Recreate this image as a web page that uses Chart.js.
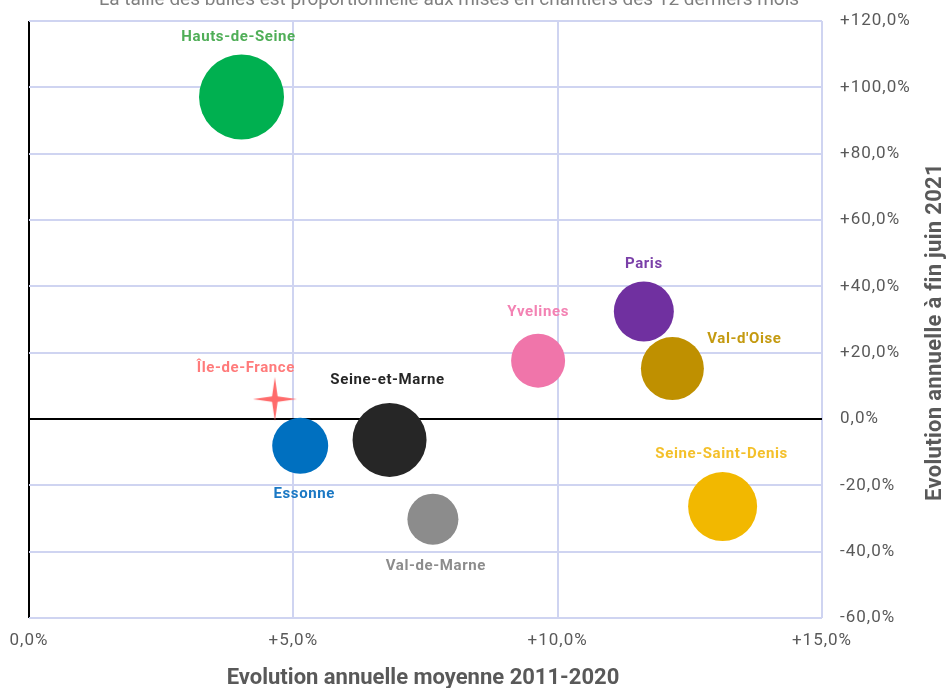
<!DOCTYPE html>
<html>
<head>
<meta charset="utf-8">
<script src="https://cdn.jsdelivr.net/npm/chart.js@4/dist/chart.umd.min.js"></script>
<style>
  html, body { margin: 0; padding: 0; background: #fff; }
  #wrap { width: 948px; height: 688px; position: relative; }
</style>
</head>
<body>
<div id="wrap"><canvas id="chart" width="948" height="688"></canvas></div>
<script>
// départements (+ région)
const names = ['Hauts-de-Seine', 'Paris', "Val-d'Oise", 'Yvelines', 'Seine-Saint-Denis',
               'Seine-et-Marne', 'Essonne', 'Val-de-Marne', 'Île-de-France'];
// évolution annuelle moyenne 2011-2020 (%)
const evol2011_2020 = [4.02, 11.63, 12.17, 9.63, 13.12, 6.82, 5.13, 7.64, 4.65];
// évolution annuelle à fin juin 2021 (%)
const evolJuin2021 = [97.1, 32.4, 15.2, 17.6, -26.4, -6.3, -8.1, -30.2, 6.0];
// taille des bulles (mises en chantier 12 derniers mois)
const bubbleSize = [42.5, 30, 31.5, 27, 34.5, 37, 28, 25.5, 0];
const colors = ['#00b050', '#7030a0', '#bf9000', '#f075aa', '#f2b800',
                '#262626', '#0070c0', '#8c8c8c', '#ff6b6b'];
const labelColors = ['#4fae57', '#7a3fa8', '#c49a10', '#f382b3', '#f4c02a',
                     '#262626', '#1a78c4', '#8c8c8c', '#ff7b7b'];
const xTicks = [0, 5, 10, 15];
const yTicks = [-60, -40, -20, 0, 20, 40, 60, 80, 100, 120];

// position du libellé par rapport au centre de la bulle (px)
const labelOffsets = [[-3, -60], [0, -47], [72, -29], [0, -48], [-1, -52],
                      [-2, -60], [4, 48], [3, 47], [-29, -31]];

const GRID = '#cfd4f1';
const TXT = '#595959';

function fmtPct(v) {
  const s = Math.abs(v).toFixed(1).replace('.', ',') + '%';
  if (v > 0) return '+' + s;
  if (v < 0) return '-' + s;
  return s;
}

// étoile à 4 branches pour Île-de-France
function makeStar(size, color) {
  const c = document.createElement('canvas');
  c.width = size; c.height = size;
  const g = c.getContext('2d');
  const m = size / 2, R = size / 2, r = size * 0.09;
  g.beginPath();
  for (let i = 0; i < 8; i++) {
    const a = -Math.PI / 2 + i * Math.PI / 4;
    const rr = i % 2 === 0 ? R : r;
    const px = m + Math.cos(a) * rr, py = m + Math.sin(a) * rr;
    if (i === 0) g.moveTo(px, py); else g.lineTo(px, py);
  }
  g.closePath();
  g.fillStyle = color;
  g.fill();
  return c;
}

const datasets = names.map(function(n, i) {
  const isStar = i === names.length - 1;
  return {
    label: n,
    data: [{ x: evol2011_2020[i], y: evolJuin2021[i], r: isStar ? 22 : bubbleSize[i] }],
    backgroundColor: colors[i],
    borderWidth: 0,
    hoverBorderWidth: 0,
    pointStyle: isStar ? makeStar(44, colors[i]) : 'circle'
  };
});

const decorPlugin = {
  id: 'decor',
  beforeDraw(chart) {
    // un peu d'espacement pour les graduations
    chart.ctx.letterSpacing = '1px';
  },
  afterDatasetsDraw(chart) {
    const ctx = chart.ctx;
    ctx.save();
    ctx.textAlign = 'center';
    ctx.textBaseline = 'middle';
    ctx.letterSpacing = '0.6px';
    ctx.font = 'bold 15px Roboto, "Noto Sans", sans-serif';
    chart.data.datasets.forEach(function(ds, i) {
      const el = chart.getDatasetMeta(i).data[0];
      if (!el) return;
      const off = labelOffsets[i];
      ctx.fillStyle = labelColors[i];
      ctx.fillText(names[i], el.x + off[0], el.y + off[1]);
    });
    ctx.restore();
  },
  afterDraw(chart) {
    const ctx = chart.ctx;
    ctx.save();
    ctx.letterSpacing = '0px';
    // sous-titre (coupé en haut)
    ctx.fillStyle = '#7f7f7f';
    ctx.font = '19px Roboto, sans-serif';
    ctx.textAlign = 'center';
    ctx.textBaseline = 'alphabetic';
    ctx.fillText('La taille des bulles est proportionnelle aux mises en chantiers des 12 derniers mois', 449, 5);
    // titre axe horizontal
    ctx.fillStyle = TXT;
    ctx.font = 'bold 22px Roboto, sans-serif';
    ctx.fillText('Evolution annuelle moyenne 2011-2020', 423, 684);
    // titre axe droit, lu de bas en haut
    ctx.translate(941, 332);
    ctx.rotate(-Math.PI / 2);
    ctx.letterSpacing = '0.3px';
    ctx.fillText('Evolution annuelle à fin juin 2021', 0, 0);
    ctx.restore();
  }
};

new Chart(document.getElementById('chart'), {
  type: 'bubble',
  data: { datasets: datasets },
  plugins: [decorPlugin],
  options: {
    responsive: false,
    animation: false,
    layout: { autoPadding: false, padding: { left: 29, top: 21, right: 0, bottom: 0 } },
    plugins: {
      legend: { display: false },
      tooltip: { enabled: false }
    },
    scales: {
      x: {
        type: 'linear',
        min: 0, max: 15,
        afterBuildTicks: function(s) { s.ticks = xTicks.map(function(v) { return { value: v }; }); },
        afterFit: function(s) { s.height = 70; s.paddingLeft = 0; s.paddingRight = 0; },
        grid: {
          drawTicks: false,
          lineWidth: 2,
          color: function(c) { return c.tick && c.tick.value === 0 ? '#000' : GRID; }
        },
        border: { display: false },
        ticks: {
          padding: 13,
          color: TXT,
          font: { family: 'Roboto', size: 17 },
          maxRotation: 0,
          callback: function(v) { return fmtPct(v); }
        }
      },
      y: {
        type: 'linear',
        position: 'right',
        min: -60, max: 120,
        afterBuildTicks: function(s) { s.ticks = yTicks.map(function(v) { return { value: v }; }); },
        afterFit: function(s) { s.width = 126; s.paddingTop = 0; s.paddingBottom = 0; },
        grid: {
          drawTicks: false,
          lineWidth: 2,
          color: function(c) { return c.tick && c.tick.value === 0 ? '#000' : GRID; }
        },
        border: { display: false },
        ticks: {
          padding: 18,
          color: TXT,
          font: { family: 'Roboto', size: 17 },
          callback: function(v) { return fmtPct(v); }
        }
      }
    }
  }
});
</script>
</body>
</html>
